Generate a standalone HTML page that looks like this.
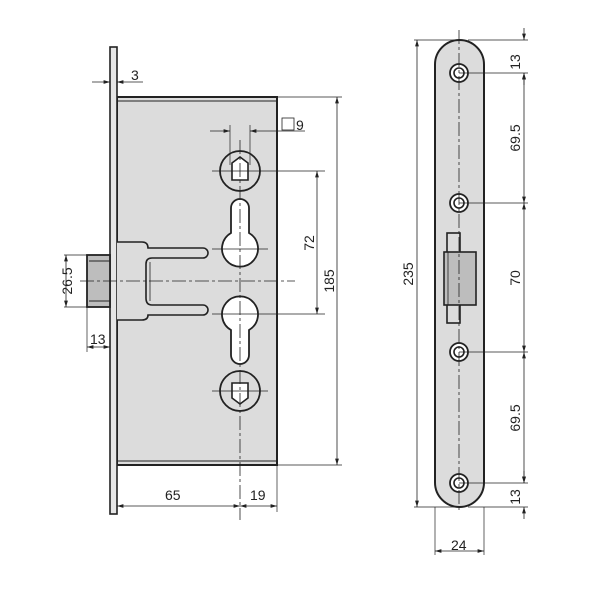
<!DOCTYPE html>
<html><head><meta charset="utf-8"><style>
html,body{margin:0;padding:0;background:#fff}
svg{display:block}
text{font-family:"Liberation Sans",Arial,sans-serif;font-size:14px;fill:#222}
</style></head><body>
<svg width="600" height="600" viewBox="0 0 600 600" xmlns="http://www.w3.org/2000/svg">
<defs>
<marker id="a" viewBox="0 0 10 6" refX="10" refY="3" markerWidth="8" markerHeight="5" orient="auto-start-reverse"><path d="M0,0 L10,3 L0,6 z" fill="#222"/></marker>
</defs>
<g stroke="#222" fill="none">
<rect x="117" y="97" width="160" height="368" fill="#dcdcdc" stroke-width="2"/>
<line x1="117" y1="101" x2="277" y2="101" stroke-width="1"/>
<line x1="117" y1="461" x2="277" y2="461" stroke-width="1"/>
<rect x="110" y="47" width="7" height="467" fill="#e6e6e6" stroke-width="1.6"/>
<rect x="87" y="255" width="23" height="52" fill="#bdbdbd" stroke-width="1.8"/>
<line x1="89" y1="261" x2="110" y2="261" stroke-width="1"/>
<line x1="89" y1="301" x2="110" y2="301" stroke-width="1"/>
<path d="M117,242 H142 Q148,242 148,248 H203 A5,5 0 0 1 203,258 H152 Q146,258 146,264 V298 Q146,305 152,305 H203 A5,5 0 0 1 203,315 H148 Q148,320 142,320 H117" stroke-width="1.6" fill="#dcdcdc"/>
<line x1="150" y1="262" x2="150" y2="301" stroke-width="0.8"/>
<circle cx="240" cy="171" r="20" stroke-width="1.8"/>
<path d="M232,163 L240,157 L248,163 V180 H232 Z" stroke-width="1.6" fill="#fff"/>
<path d="M231,208 A9,9 0 0 1 249,208 V233 A18,18 0 1 1 231,233 Z" stroke-width="1.8" fill="#fff"/>
<path d="M231,330 A18,18 0 1 1 249,330 V355 A9,9 0 0 1 231,355 Z" stroke-width="1.8" fill="#fff"/>
<circle cx="240" cy="391" r="20" stroke-width="1.8"/>
<path d="M232,383 H248 V398 L240,404 L232,398 Z" stroke-width="1.6" fill="#fff"/>
<rect x="435" y="40" width="49" height="467" rx="24.5" fill="#dcdcdc" stroke-width="2"/>
<g fill="#fff" stroke-width="1.8">
<circle cx="459" cy="73" r="9"/><circle cx="459" cy="203" r="9"/><circle cx="459" cy="352" r="9"/><circle cx="459" cy="483" r="9"/>
</g>
<g stroke-width="1.6" fill="none">
<circle cx="459" cy="73" r="5"/><circle cx="459" cy="203" r="5"/><circle cx="459" cy="352" r="5"/><circle cx="459" cy="483" r="5"/>
</g>
<rect x="447" y="233" width="13" height="90" fill="#dcdcdc" stroke-width="1.6"/>
<rect x="444" y="252" width="32" height="53" fill="#bdbdbd" stroke-width="1.6"/>
<path d="M448,252 V305" stroke-width="0.8"/>
<g stroke-width="0.8" stroke-dasharray="14,3,3,3">
<line x1="240" y1="140" x2="240" y2="520"/>
<line x1="80" y1="281" x2="295" y2="281"/>
<line x1="459" y1="30" x2="459" y2="512"/>
</g>
<g stroke-width="0.7">
<line x1="212" y1="171" x2="325" y2="171"/>
<line x1="212" y1="249" x2="268" y2="249"/>
<line x1="212" y1="314" x2="325" y2="314"/>
<line x1="212" y1="391" x2="268" y2="391"/>
<line x1="277" y1="97" x2="342" y2="97"/>
<line x1="277" y1="465" x2="342" y2="465"/>
<line x1="230" y1="125" x2="230" y2="165"/><line x1="250" y1="125" x2="250" y2="165"/>
<line x1="277" y1="465" x2="277" y2="512"/>
<line x1="117" y1="500" x2="117" y2="514"/>
<line x1="64" y1="255" x2="87" y2="255"/><line x1="64" y1="307" x2="87" y2="307"/>
<line x1="87" y1="307" x2="87" y2="352"/>
<line x1="414" y1="40" x2="459" y2="40"/><line x1="414" y1="507" x2="459" y2="507"/>
<line x1="468" y1="40" x2="528" y2="40"/><line x1="459" y1="73" x2="528" y2="73"/>
<line x1="459" y1="203" x2="528" y2="203"/><line x1="459" y1="352" x2="528" y2="352"/>
<line x1="459" y1="483" x2="528" y2="483"/><line x1="468" y1="507" x2="528" y2="507"/>
<line x1="435" y1="507" x2="435" y2="555"/><line x1="484" y1="507" x2="484" y2="555"/>
</g>
<g stroke-width="0.8" marker-start="url(#a)" marker-end="url(#a)">
<line x1="337" y1="97" x2="337" y2="465"/>
<line x1="317" y1="171" x2="317" y2="314"/>
<line x1="66" y1="255" x2="66" y2="307"/>
<line x1="117" y1="506" x2="240" y2="506"/>
<line x1="240" y1="506" x2="277" y2="506"/>
<line x1="417" y1="40" x2="417" y2="507"/>
<line x1="524" y1="73" x2="524" y2="203"/>
<line x1="524" y1="203" x2="524" y2="352"/>
<line x1="524" y1="352" x2="524" y2="483"/>
<line x1="435" y1="551" x2="484" y2="551"/>
</g>
<g stroke-width="0.8">
<line x1="92" y1="82" x2="110" y2="82" marker-end="url(#a)"/>
<line x1="143" y1="82" x2="117" y2="82" marker-end="url(#a)"/>
<line x1="210" y1="131" x2="230" y2="131" marker-end="url(#a)"/>
<line x1="305" y1="131" x2="250" y2="131" marker-end="url(#a)"/>
<line x1="87" y1="347" x2="110" y2="347" marker-start="url(#a)" marker-end="url(#a)"/>
<line x1="524" y1="28" x2="524" y2="40" marker-end="url(#a)"/>
<line x1="524" y1="85" x2="524" y2="73" marker-end="url(#a)"/>
<line x1="524" y1="471" x2="524" y2="483" marker-end="url(#a)"/>
<line x1="524" y1="519" x2="524" y2="507" marker-end="url(#a)"/>
</g>
<rect x="282" y="118" width="12" height="12" fill="#fff" stroke-width="0.8"/>
</g>
<text x="131" y="80">3</text>
<text x="296" y="130">9</text>
<text x="90" y="344">13</text>
<text x="165" y="500">65</text>
<text x="250" y="500">19</text>
<text transform="translate(72,281) rotate(-90)" text-anchor="middle">26.5</text>
<text transform="translate(314,243) rotate(-90)" text-anchor="middle">72</text>
<text transform="translate(334,281) rotate(-90)" text-anchor="middle">185</text>
<text transform="translate(413,274) rotate(-90)" text-anchor="middle">235</text>
<text transform="translate(520,62) rotate(-90)" text-anchor="middle">13</text>
<text transform="translate(520,138) rotate(-90)" text-anchor="middle">69.5</text>
<text transform="translate(520,278) rotate(-90)" text-anchor="middle">70</text>
<text transform="translate(520,418) rotate(-90)" text-anchor="middle">69.5</text>
<text transform="translate(520,497) rotate(-90)" text-anchor="middle">13</text>
<text x="451" y="550">24</text>
</svg>
</body></html>
